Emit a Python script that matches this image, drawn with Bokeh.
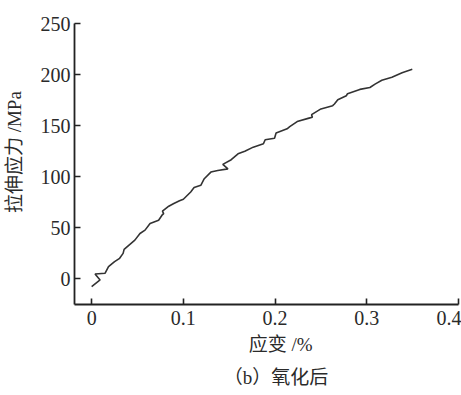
from bokeh.plotting import figure
from bokeh.models import Range1d, FixedTicker, Title
from bokeh.embed import file_html
from bokeh.resources import INLINE

# Data (strain %, tensile stress MPa)
strain = [0.000, 0.0092, 0.0037, 0.0147, 0.0184, 0.025, 0.0305, 0.0343, 0.0354,
          0.0471, 0.0527, 0.0582, 0.0637, 0.073, 0.0767, 0.0785, 0.0772, 0.0841,
          0.0896, 0.0958, 0.100, 0.108, 0.1117, 0.119, 0.1228, 0.130, 0.1375,
          0.1486, 0.143, 0.1522, 0.1596, 0.167, 0.1762, 0.1873, 0.1892, 0.1994,
          0.2011, 0.2131, 0.216, 0.2241, 0.237, 0.2407, 0.2398, 0.250, 0.2628,
          0.2647, 0.2684, 0.2777, 0.279, 0.2924, 0.3034, 0.309, 0.3164, 0.3274,
          0.3385, 0.3496]
stress = [-7.5, -1.0, 4.9, 5.6, 12.0, 16.9, 20.2, 25.0, 28.9,
          38.0, 44.5, 47.8, 54.3, 57.5, 62.4, 64.0, 66.3, 71.2,
          73.8, 76.5, 78.0, 85.1, 89.4, 91.6, 98.1, 104.6, 106.2,
          107.7, 112.1, 116.7, 122.5, 125.0, 129.0, 132.3, 136.2, 137.7,
          142.8, 146.9, 149.0, 154.0, 157.4, 158.2, 160.8, 166.4, 169.6,
          171.2, 175.4, 179.3, 181.3, 185.5, 187.4, 190.7, 194.4, 197.4,
          201.8, 205.2]

x_ticks = [0, 0.1, 0.2, 0.3, 0.4]
x_tick_labels = ["0", "0.1", "0.2", "0.3", "0.4"]
y_ticks = [0, 50, 100, 150, 200, 250]

x_label = "应变 /%"
y_label = "拉伸应力 /MPa"
caption = "（b）氧化后"

FONT = "'Liberation Serif', 'Noto Sans CJK SC'"
TXT = "#2a2a2a"
NB = "\u00a0"

p = figure(width=461, height=395, output_backend="svg", toolbar_location=None,
           x_range=Range1d(-0.0187, 0.4), y_range=Range1d(-25, 250),
           min_border_left=74, min_border_right=3, min_border_top=23,
           min_border_bottom=91)
p.outline_line_color = None
p.xgrid.visible = False
p.ygrid.visible = False
p.background_fill_color = "white"
p.border_fill_color = "white"

p.line(strain, stress, line_color="#333333", line_width=1.6)

for ax in (p.xaxis[0], p.yaxis[0]):
    ax.axis_line_color = "#222222"
    ax.axis_line_width = 1.8
    ax.major_tick_line_color = "#222222"
    ax.major_tick_line_width = 1.6
    ax.major_tick_in = 6
    ax.major_tick_out = 0
    ax.minor_tick_line_color = None
    ax.major_label_text_font = FONT
    ax.major_label_text_font_size = "20px"
    ax.major_label_text_color = TXT
    ax.axis_label_text_font = FONT
    ax.axis_label_text_font_size = "19px"
    ax.axis_label_text_font_style = "normal"
    ax.axis_label_text_color = TXT

p.xaxis.ticker = FixedTicker(ticks=x_ticks)
p.xaxis.major_label_overrides = {t: l for t, l in zip(x_ticks, x_tick_labels)}
p.xaxis.major_label_standoff = 6
p.xaxis.axis_label = NB * 6 + x_label
p.xaxis.axis_label_standoff = 6
p.yaxis.ticker = FixedTicker(ticks=y_ticks)
p.yaxis.major_label_standoff = 4
p.yaxis.axis_label = NB * 5 + y_label
p.yaxis.axis_label_standoff = 13

p.add_layout(Title(text=NB * 4 + caption, align="center", text_font=FONT,
                   text_font_size="19px", text_font_style="normal",
                   text_color=TXT, standoff=14), "below")

open("out.html", "w").write(file_html(p, INLINE))
